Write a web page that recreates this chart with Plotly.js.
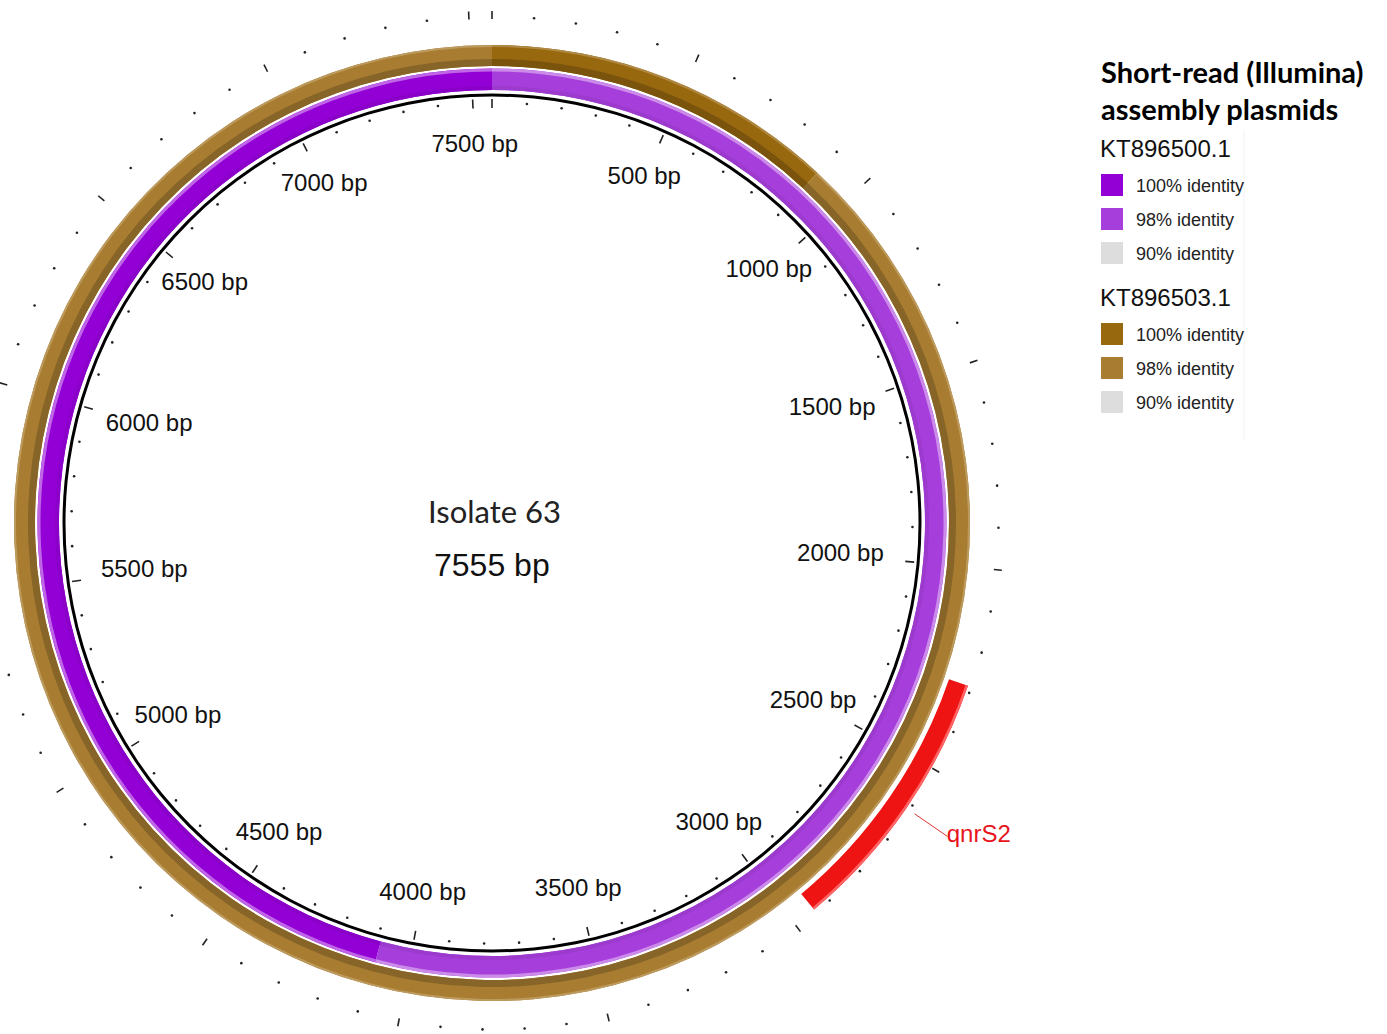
<!DOCTYPE html>
<html><head><meta charset="utf-8">
<script src="https://cdn.plot.ly/plotly-3.0.1.min.js"></script>
<style>
html,body{margin:0;padding:0;width:1387px;height:1034px;overflow:hidden;background:#fff;}
#plot{position:absolute;left:-100px;top:-100px;width:1587px;height:1234px;}
</style></head><body><div id="plot"></div>
<script>
// ---------------- data ----------------
const plasmidName = 'Isolate 63';
const plasmidLength = 7555;

const ring1Name = 'KT896500.1';
const ring1Start = [0, 4090];
const ring1End = [4090, 7555];
const ring1Identity = [98, 100];

const ring2Name = 'KT896503.1';
const ring2Start = [0, 900];
const ring2End = [900, 7555];
const ring2Identity = [100, 98];

const geneNames = ['qnrS2'];
const geneStart = [2285];
const geneEnd = [2942];

const labelPositions = [500, 1000, 1500, 2000, 2500, 3000, 3500, 4000, 4500, 5000, 5500, 6000, 6500, 7000, 7500];
const majorTickPositions = [0, 500, 1000, 1500, 2000, 2500, 3000, 3500, 4000, 4500, 5000, 5500, 6000, 6500, 7000, 7500];
const minorTickStep = 100;

const identityLevels = [100, 98, 90];
const identityLabels = ['100% identity', '98% identity', '90% identity'];
const legendTitle = ['Short-read (Illumina)', 'assembly plasmids'];

// ---------------- styles ----------------
const ring1Colors = {100: '#9300D6', 98: '#A63EDB', 90: '#DDDDDD'};
const ring2Colors = {100: '#98680F', 98: '#A97D31', 90: '#DDDDDD'};
const geneColor = '#EE1414';

// ---------------- geometry (pixels) ----------------
const OFF = 100, W = 1587, H = 1234;
const CX = 492 + OFF, CY = 523 + OFF, R = 580;
const px = x => (x + OFF) / W;
const py = y => 1 - (y + OFF) / H;

const toDeg = bp => bp / plasmidLength * 360;

function shade(hex, f) {
  const n = parseInt(hex.slice(1), 16);
  let r = (n >> 16) & 255, g = (n >> 8) & 255, b = n & 255;
  const m = c => f < 0 ? Math.round(c * (1 + f)) : Math.round(c + (255 - c) * f);
  return 'rgb(' + m(r) + ',' + m(g) + ',' + m(b) + ')';
}

function band(starts, ends, colors, r0, r1) {
  return {
    type: 'barpolar',
    theta: starts.map((s, i) => toDeg((s + ends[i]) / 2)),
    width: starts.map((s, i) => toDeg(ends[i] - s)),
    base: starts.map(() => r0),
    r: starts.map(() => r1 - r0),
    marker: {color: colors, line: {width: 0}},
    hoverinfo: 'skip', showlegend: false
  };
}

const traces = [];
// ring 2 (brown, outer)
const c2 = ring2Identity.map(v => ring2Colors[v]);
traces.push(band(ring2Start, ring2End, c2, 457, 478));
traces.push(band(ring2Start, ring2End, c2.map(c => shade(c, -0.2)), 457, 464));
traces.push(band(ring2Start, ring2End, c2.map(c => shade(c, 0.22)), 476, 478));
// ring 1 (purple, inner)
const c1 = ring1Identity.map(v => ring1Colors[v]);
traces.push(band(ring1Start, ring1End, c1, 433, 454.5));
traces.push(band(ring1Start, ring1End, c1.map(c => shade(c, -0.06)), 433, 437));
traces.push(band(ring1Start, ring1End, c1.map(c => shade(c, 0.4)), 451.5, 454.5));
// backbone circle
traces.push(band([0, plasmidLength / 2], [plasmidLength / 2, plasmidLength], ['#000', '#000'], 426.5, 429.5));
// gene
traces.push(band(geneStart, geneEnd, geneNames.map(() => geneColor), 483, 503));
traces.push(band(geneStart, geneEnd, geneNames.map(() => '#FF6464'), 500.5, 503));

// ticks
function tickLines(positions, r0, r1) {
  const th = [], rr = [];
  positions.forEach(p => { th.push(toDeg(p), toDeg(p), null); rr.push(r0, r1, null); });
  return {type: 'scatterpolar', mode: 'lines', theta: th, r: rr, line: {color: '#222', width: 1.6},
          hoverinfo: 'skip', showlegend: false, cliponaxis: false, connectgaps: false};
}
const minorTicks = [];
for (let p = 0; p < plasmidLength; p += minorTickStep) if (!majorTickPositions.includes(p)) minorTicks.push(p);

traces.push(tickLines(majorTickPositions, 504, 512));
traces.push(tickLines(majorTickPositions, 415, 424));
traces.push({type: 'scatterpolar', mode: 'markers', theta: minorTicks.map(toDeg), r: minorTicks.map(() => 506.5),
  marker: {color: '#222', size: 2.6}, hoverinfo: 'skip', showlegend: false, cliponaxis: false});
traces.push({type: 'scatterpolar', mode: 'markers', theta: minorTicks.map(toDeg), r: minorTicks.map(() => 420.5),
  marker: {color: '#222', size: 2.6}, hoverinfo: 'skip', showlegend: false, cliponaxis: false});

// position labels
const labelR = deg => 377 - 28 * Math.pow(Math.abs(Math.sin(deg * Math.PI / 180)), 8);
traces.push({type: 'scatterpolar', mode: 'text',
  theta: labelPositions.map(toDeg), r: labelPositions.map(p => labelR(toDeg(p))),
  text: labelPositions.map(p => p + ' bp'), textposition: 'middle center',
  textfont: {family: 'Liberation Sans, Arial, sans-serif', size: 24, color: '#111'},
  hoverinfo: 'skip', showlegend: false, cliponaxis: false});

// gene label
const geneMid = geneStart.map((s, i) => toDeg((s + geneEnd[i]) / 2));
geneMid.forEach((m, i) => {
  traces.push({type: 'scatterpolar', mode: 'lines', theta: [m, m], r: [513, 553],
    line: {color: '#E03535', width: 1}, hoverinfo: 'skip', showlegend: false, cliponaxis: false});
  traces.push({type: 'scatterpolar', mode: 'text', theta: [m], r: [552], text: [geneNames[i]],
    textposition: 'middle right', textfont: {family: 'Liberation Sans, Arial, sans-serif', size: 24, color: '#E8141B'},
    hoverinfo: 'skip', showlegend: false, cliponaxis: false});
});

// ---------------- annotations & legend ----------------
const annotations = [
  {x: px(494), y: py(511), xref: 'paper', yref: 'paper', text: plasmidName, showarrow: false,
   font: {family: 'Lato, sans-serif', size: 31, color: '#222'}, xanchor: 'center', yanchor: 'middle'},
  {x: px(492), y: py(565), xref: 'paper', yref: 'paper', text: plasmidLength + ' bp', showarrow: false,
   font: {family: 'Liberation Sans, Arial, sans-serif', size: 32, color: '#111'}, xanchor: 'center', yanchor: 'middle'},
  {x: px(1099), y: py(71), xref: 'paper', yref: 'paper', text: '<b>' + legendTitle[0] + '</b>', showarrow: false,
   font: {family: 'Lato, sans-serif', size: 29, color: '#000'}, xanchor: 'left', yanchor: 'middle'},
  {x: px(1099), y: py(108), xref: 'paper', yref: 'paper', text: '<b>' + legendTitle[1] + '</b>', showarrow: false,
   font: {family: 'Lato, sans-serif', size: 29, color: '#000'}, xanchor: 'left', yanchor: 'middle'}
];
const shapes = [
  {type: 'line', xref: 'paper', yref: 'paper', x0: px(1244), x1: px(1244), y0: py(130), y1: py(440),
   line: {color: '#F2F2F2', width: 1}}
];
const groups = [
  {name: ring1Name, colors: ring1Colors, top: 148},
  {name: ring2Name, colors: ring2Colors, top: 297}
];
groups.forEach(g => {
  annotations.push({x: px(1098), y: py(g.top), xref: 'paper', yref: 'paper', text: g.name, showarrow: false,
    font: {family: 'Liberation Sans, Arial, sans-serif', size: 24, color: '#111'}, xanchor: 'left', yanchor: 'middle'});
  identityLevels.forEach((lv, j) => {
    const yc = g.top + 37 + j * 34;
    shapes.push({type: 'rect', xref: 'paper', yref: 'paper', x0: px(1101), x1: px(1123), y0: py(yc - 11), y1: py(yc + 11),
      fillcolor: g.colors[lv], line: {width: 0}});
    annotations.push({x: px(1134), y: py(yc + 1), xref: 'paper', yref: 'paper', text: identityLabels[j], showarrow: false,
      font: {family: 'Liberation Sans, Arial, sans-serif', size: 18, color: '#222'}, xanchor: 'left', yanchor: 'middle'});
  });
});

const layout = {
  width: W, height: H, margin: {l: 0, r: 0, t: 0, b: 0},
  paper_bgcolor: '#fff', plot_bgcolor: '#fff', showlegend: false,
  polar: {
    domain: {x: [(CX - R) / W, (CX + R) / W], y: [(H - CY - R) / H, (H - CY + R) / H]},
    bgcolor: 'rgba(0,0,0,0)', barmode: 'overlay',
    radialaxis: {range: [0, R], visible: false, showgrid: false, showline: false, showticklabels: false, ticks: ''},
    angularaxis: {rotation: 90, direction: 'clockwise', visible: false, showgrid: false, showline: false,
                  showticklabels: false, ticks: ''}
  },
  annotations: annotations, shapes: shapes
};
Plotly.newPlot('plot', traces, layout, {staticPlot: true, displayModeBar: false});
</script></body></html>
